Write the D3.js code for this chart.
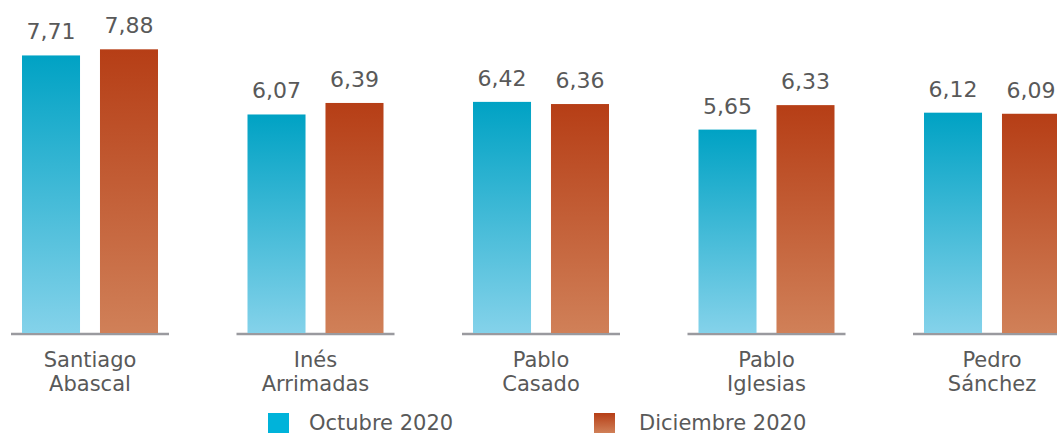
<!DOCTYPE html>
<html>
<head>
<meta charset="utf-8">
<script src="https://cdn.jsdelivr.net/npm/d3@7"></script>
<style>
  body { margin: 0; background: #fff; }
  text { font-family: "DejaVu Sans", sans-serif; fill: #595959; }
</style>
</head>
<body>
<div id="vis"></div>
<script>
// chart data
var categories = [["Santiago", "Abascal"], ["Inés", "Arrimadas"], ["Pablo", "Casado"], ["Pablo", "Iglesias"], ["Pedro", "Sánchez"]];
var seriesNames = ["Octubre 2020", "Diciembre 2020"];
var octubre = [7.71, 6.07, 6.42, 5.65, 6.12];
var diciembre = [7.88, 6.39, 6.36, 6.33, 6.09];

var width = 1057, height = 436, baseY = 333;

var svg = d3.select("#vis").append("svg")
  .attr("width", width)
  .attr("height", height);

var defs = svg.append("defs");
var grads = [["g0", "#00a2c4", "#84d2ea"], ["g1", "#b63e16", "#d08058"]];
grads.forEach(function(g) {
  var lg = defs.append("linearGradient").attr("id", g[0])
    .attr("x1", 0).attr("y1", 0).attr("x2", 0).attr("y2", 1);
  lg.append("stop").attr("offset", "0%").attr("stop-color", g[1]);
  lg.append("stop").attr("offset", "100%").attr("stop-color", g[2]);
});

var keys = categories.map(function(c) { return c.join(" "); });

var x0 = d3.scaleBand().domain(keys).range([-22.75, 1104.75]);
var x1 = d3.scaleBand().domain(seriesNames).range([44.75, 180.75]).paddingInner(0.256);
var y = d3.scaleLinear().domain([0, 9.25]).range([baseY, 0]);

var rows = keys.map(function(k, i) {
  return { key: k, lines: categories[i], vals: [octubre[i], diciembre[i]] };
});

var groups = svg.selectAll("g.group").data(rows).enter().append("g")
  .attr("class", "group")
  .attr("transform", function(d) { return "translate(" + x0(d.key) + ",0)"; });

// axis segment under each pair
groups.append("line")
  .attr("x1", 33.75).attr("x2", 191.75)
  .attr("y1", baseY + 1).attr("y2", baseY + 1)
  .attr("stroke", "#9a9a9f").attr("stroke-width", 2.5);

groups.selectAll("rect").data(function(d) {
  return d.vals.map(function(v, j) { return { s: seriesNames[j], v: v, j: j }; });
}).enter().append("rect")
  .attr("x", function(d) { return x1(d.s); })
  .attr("width", x1.bandwidth())
  .attr("y", function(d) { return y(d.v); })
  .attr("height", function(d) { return baseY - y(d.v); })
  .attr("fill", function(d) { return "url(#g" + d.j + ")"; });

groups.selectAll("text.val").data(function(d) {
  return d.vals.map(function(v, j) { return { s: seriesNames[j], v: v }; });
}).enter().append("text")
  .attr("class", "val")
  .attr("x", function(d) { return x1(d.s) + x1.bandwidth() / 2; })
  .attr("y", function(d) { return y(d.v) - 16; })
  .attr("text-anchor", "middle")
  .style("font-size", "22px")
  .text(function(d) { return d.v.toFixed(2).replace(".", ","); });

var lab = groups.append("text")
  .attr("text-anchor", "middle")
  .style("font-size", "21px");
lab.selectAll("tspan").data(function(d) { return d.lines; }).enter().append("tspan")
  .attr("x", 112.75)
  .attr("y", function(d, i) { return 367 + i * 24; })
  .text(function(d) { return d; });

// legend
var legend = svg.selectAll("g.leg").data(seriesNames).enter().append("g")
  .attr("class", "leg")
  .attr("transform", function(d, i) { return "translate(" + (268 + i * 326) + ",413)"; });
legend.append("rect")
  .attr("width", 21).attr("height", 20)
  .attr("fill", function(d, i) { return i === 0 ? "#00b3da" : "url(#g1)"; });
legend.append("text")
  .attr("x", function(d, i) { return i === 0 ? 41 : 45; })
  .attr("y", 17)
  .style("font-size", "21px")
  .text(function(d) { return d; });
</script>
</body>
</html>
